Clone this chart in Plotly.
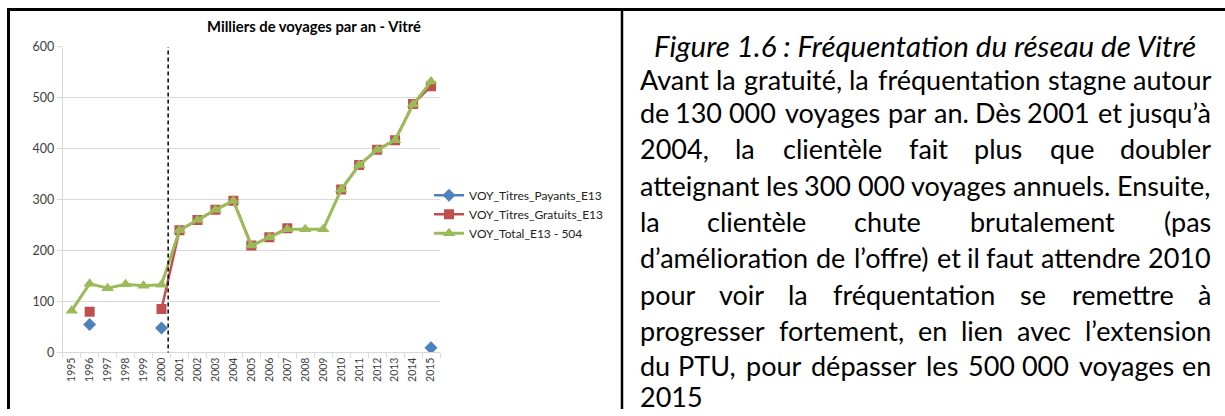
import plotly.graph_objects as go

years = [str(y) for y in range(1995, 2016)]
payants = [None, 55, None, None, None, 48, None, None, None, None, None,
           None, None, None, None, None, None, None, None, None, 9]
gratuits = [None, 80, None, None, None, 85, 240, 260, 280, 298, 210,
            226, 244, None, None, 320, 368, 398, 417, 488, 523]
total = [82, 135, 126, 134, 131, 133, 240, 260, 280, 298, 210,
         226, 242, 242, 242, 320, 368, 398, 417, 487, 532]
y_ticks = [0, 100, 200, 300, 400, 500, 600]

chart_title = "Milliers de voyages par an - Vitré"
names = ["VOY_Titres_Payants_E13", "VOY_Titres_Gratuits_E13", "VOY_Total_E13 - 504"]

caption = "Figure 1.6 : Fréquentation du réseau de Vitré"
body_lines = [
    "Avant la gratuité, la fréquentation stagne autour",
    "de 130 000 voyages par an. Dès 2001 et jusqu’à",
    "2004, la clientèle fait plus que doubler",
    "atteignant les 300 000 voyages annuels. Ensuite,",
    "la clientèle chute brutalement (pas",
    "d’amélioration de l’offre) et il faut attendre 2010",
    "pour voir la fréquentation se remettre à",
    "progresser fortement, en lien avec l’extension",
    "du PTU, pour dépasser les 500 000 voyages en",
    "2015",
]

W, H = 1225, 416
FONT = "Lato"

fig = go.Figure()
fig.add_trace(go.Scatter(x=years, y=payants, name=names[0], mode="lines+markers",
                         line=dict(color="#4F81BD", width=2.5),
                         marker=dict(symbol="diamond", size=10, color="#4F81BD"),
                         connectgaps=False))
fig.add_trace(go.Scatter(x=years, y=gratuits, name=names[1], mode="lines+markers",
                         line=dict(color="#C0504D", width=2.5),
                         marker=dict(symbol="square", size=10, color="#C0504D"),
                         connectgaps=False))
fig.add_trace(go.Scatter(x=years, y=total, name=names[2], mode="lines+markers",
                         line=dict(color="#9BBB59", width=3),
                         marker=dict(symbol="triangle-up", size=11, color="#9BBB59"),
                         connectgaps=False))


def px_x(v):
    return v / W


def px_y(v):
    # target vertical position in the photographed picture -> paper fraction
    page = (v - 8.3) / 0.964
    return 1 - page / H


fig.update_layout(
    width=W, height=H,
    margin=dict(l=0, r=0, t=0, b=0),
    paper_bgcolor="white", plot_bgcolor="white",
    font=dict(family=FONT, color="#000"),
    showlegend=True,
    legend=dict(x=px_x(429), y=px_y(181), xanchor="left", yanchor="top",
                font=dict(size=12, color="#222", family=FONT),
                bgcolor="rgba(0,0,0,0)", itemwidth=30, tracegroupgap=0),
    xaxis=dict(type="category", domain=[px_x(62.7), px_x(440)], range=[-0.5, 20.5],
               tickangle=-90, tickfont=dict(size=10.5, color="#404040"),
               showgrid=False, showline=True, linecolor="#D9D9D9", linewidth=1,
               ticks="outside", tickson="boundaries", ticklen=5, tickcolor="#D9D9D9",
               anchor="y", zeroline=False),
    yaxis=dict(domain=[px_y(352.7), px_y(47.3)], range=[0, 600],
               tickvals=y_ticks, tickfont=dict(size=12.5, color="#404040"),
               showgrid=True, gridcolor="#D9D9D9", gridwidth=1,
               showline=True, linecolor="#D9D9D9", ticks="outside", ticklen=5,
               tickcolor="#D9D9D9", zeroline=False),
)

# dashed separator (introduction of free transport)
fig.add_shape(type="line", xref="x", yref="y", x0=5.37, x1=5.37, y0=-6, y1=600,
              line=dict(color="black", width=1.5, dash="4px,3px"))

# chart title
fig.add_annotation(text="<b>" + chart_title + "</b>", xref="paper", yref="paper",
                   x=px_x(314), y=px_y(26), xanchor="center", yanchor="middle",
                   showarrow=False, font=dict(size=14.8, color="#000", family=FONT))

# table borders
border = dict(color="black", width=3)
fig.add_shape(type="line", xref="paper", yref="paper", x0=px_x(7), x1=1,
              y0=1 - 1.6 / H, y1=1 - 1.6 / H, line=border)
fig.add_shape(type="line", xref="paper", yref="paper", x0=px_x(8.5), x1=px_x(8.5),
              y0=1 - 1.6 / H, y1=0, line=border)
fig.add_shape(type="line", xref="paper", yref="paper", x0=px_x(622), x1=px_x(622),
              y0=1 - 1.6 / H, y1=0, line=dict(color="black", width=2.5))

# right-hand text (justified)
TX, TR = 638, 1213
TS = 27
fig.add_annotation(text="<i>" + caption + "</i>", xref="paper", yref="paper",
                   x=px_x(925), y=px_y(46), xanchor="center", yanchor="middle",
                   showarrow=False, font=dict(size=29.5, family=FONT, color="#000"))

CW = {}
for ch, w in [("a", .49), ("b", .55), ("c", .46), ("d", .55), ("e", .51), ("f", .32),
              ("g", .50), ("h", .55), ("i", .24), ("j", .24), ("k", .50), ("l", .24),
              ("m", .82), ("n", .55), ("o", .55), ("p", .55), ("q", .55), ("r", .37),
              ("s", .42), ("t", .35), ("u", .55), ("v", .50), ("w", .76), ("x", .49),
              ("y", .50), ("z", .44), ("é", .51), ("è", .51), ("à", .49), (",", .22),
              (".", .22), (":", .22), ("’", .22), ("(", .30), (")", .30), (" ", .193)]:
    CW[ch] = w


def est_width(word, size):
    tot = 0.0
    for ch in word:
        if ch.isdigit():
            tot += .58
        elif ch.isupper():
            tot += .64
        else:
            tot += CW.get(ch, .5)
    return tot * size * 1.034


line_y = [80, 113, 149, 186, 222, 258, 295, 331, 366, 397]
for i, (text, yy) in enumerate(zip(body_lines, line_y)):
    words = text.replace("130 000", "130\u00a0000").replace("300 000", "300\u00a0000") \
                .replace("500 000", "500\u00a0000").split(" ")
    words = [w.replace("\u00a0", " ") for w in words]
    last = i == len(body_lines) - 1
    if last or len(words) == 1:
        fig.add_annotation(text=text, xref="paper", yref="paper", x=px_x(TX), y=px_y(yy),
                           xanchor="left", yanchor="middle", showarrow=False,
                           font=dict(size=TS, family=FONT, color="#000"))
        continue
    widths = [est_width(w, TS) for w in words]
    gap = (TR - TX - sum(widths)) / (len(words) - 1)
    cur = TX
    for j, (w, wd) in enumerate(zip(words, widths)):
        if j == 0:
            xx, anc = TX, "left"
        elif j == len(words) - 1:
            xx, anc = TR, "right"
        else:
            xx, anc = cur + wd / 2, "center"
        fig.add_annotation(text=w, xref="paper", yref="paper",
                           x=px_x(xx), y=px_y(yy), xanchor=anc, yanchor="middle",
                           showarrow=False, font=dict(size=TS, family=FONT, color="#000"))
        cur += wd + gap

fig.write_html("out.html", config={"displayModeBar": False},
               post_script="document.body.style.margin='0';document.body.style.padding='0';")
